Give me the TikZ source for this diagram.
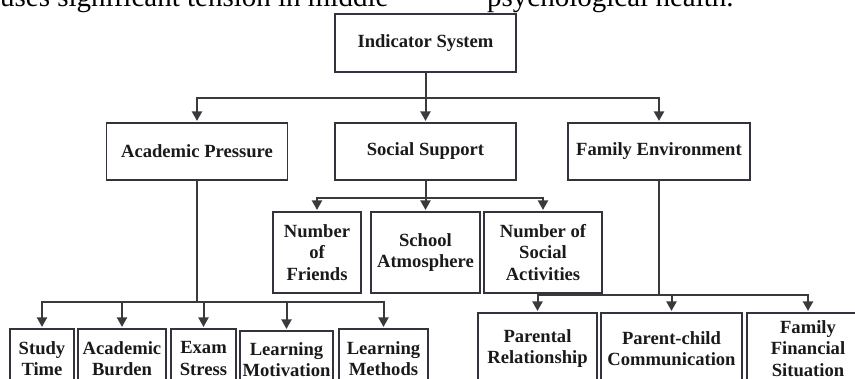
\documentclass[tikz,border=0pt]{standalone}
\usepackage{fontspec}
\setmainfont{Liberation Serif}
\usetikzlibrary{arrows.meta}
\definecolor{boxline}{HTML}{33333D}
\definecolor{linkgray}{HTML}{3A3A3A}
\definecolor{ink}{HTML}{1A1A1A}
\tikzset{
  box/.style={draw=boxline, line width=1.1pt, inner sep=0pt, align=center,
    text=ink, font=\fontsize{18.6}{21.5}\selectfont\bfseries},
  link/.style={draw=linkgray, line width=2pt},
  arr/.style={link, -{Triangle[width=10pt,length=9.5pt]}, shorten >=1.5pt},
  bodytext/.style={anchor=base west, inner sep=0pt, text=black,
    font=\fontsize{29}{34}\selectfont},
}
\begin{document}
\begin{tikzpicture}[x=1pt,y=-1pt]
\useasboundingbox (0,0) rectangle (855,379);
\clip (0,0) rectangle (855,379);

% running text of the page above the chart
\node[bodytext] (txtl) at (0,7) {uses significant tension in middle};
\node[bodytext] (txtr) at (487,7) {psychological health.};

% root
\node[box, minimum width=181pt, minimum height=58pt] (ind) at (425.5,43) {Indicator System};

% first level
\node[box, minimum width=181pt, minimum height=57pt] (acad) at (197,151.5) {Academic Pressure};
\node[box, minimum width=181pt, minimum height=57pt] (soc) at (425.5,151.5) {Social Support};
\node[box, minimum width=182pt, minimum height=57pt] (fam) at (659,151.5) {Family Environment};

% social support indicators
\node[box, minimum width=88pt, minimum height=81pt] (nf) at (317,252.5) {Number\\of\\Friends};
\node[box, minimum width=109pt, minimum height=81pt] (sa) at (425.5,252.5) {School\\Atmosphere};
\node[box, minimum width=118pt, minimum height=81pt] (nsa) at (543,252.5) {Number of\\Social\\Activities};

% academic pressure indicators
\node[box, minimum width=64pt, minimum height=59pt] (st) at (42,358.5) {Study\\Time};
\node[box, minimum width=88pt, minimum height=59pt] (ab) at (122,358.5) {Academic\\Burden};
\node[box, minimum width=65pt, minimum height=59pt] (es) at (203.5,358.5) {Exam\\Stress};
\node[box, minimum width=93pt, minimum height=57pt] (lmo) at (286.5,359.5) {Learning\\Motivation};
\node[box, minimum width=89pt, minimum height=59pt] (lme) at (383.5,358.5) {Learning\\Methods};

% family environment indicators
\node[box, minimum width=119pt, minimum height=71pt] (pr) at (537.5,348.5) {Parental\\Relationship};
\node[box, minimum width=141pt, minimum height=71pt] (pc) at (671.5,348.5) {Parent-child\\Communication};
\node[box, minimum width=122pt, minimum height=71pt] (ffs) at (808,348.5) {Family\\Financial\\Situation};

% junction points of the tree
\coordinate (j0) at (425.5,98);
\coordinate (ja) at (197,302);
\coordinate (js) at (425.5,198);
\coordinate (jf) at (659,295);

% root to first level
\draw[link] (ind.south) -- (j0);
\draw[arr] (j0) -| (acad.north);
\draw[arr] (j0) -- (soc.north);
\draw[arr] (j0) -| (fam.north);

% social support branch
\draw[link] (soc.south) -- (js);
\draw[arr] (js) -| (nf.north);
\draw[arr] (js) -- (sa.north);
\draw[arr] (js) -| (nsa.north);

% academic pressure branch
\draw[link, line width=2.6pt] (acad.south) -- (ja);
\draw[arr] (ja) -| (st.north);
\draw[arr] (ja) -| (ab.north);
\draw[arr] (ja) -| (es.north);
\draw[arr] (ja) -| (lmo.north);
\draw[arr] (ja) -| (lme.north);

% family environment branch
\draw[link, line width=2.6pt] (fam.south) -- (jf);
\draw[arr] (jf) -| (pr.north);
\draw[arr] (jf) -| (pc.north);
\draw[arr] (jf) -| (ffs.north);
\end{tikzpicture}
\end{document}
